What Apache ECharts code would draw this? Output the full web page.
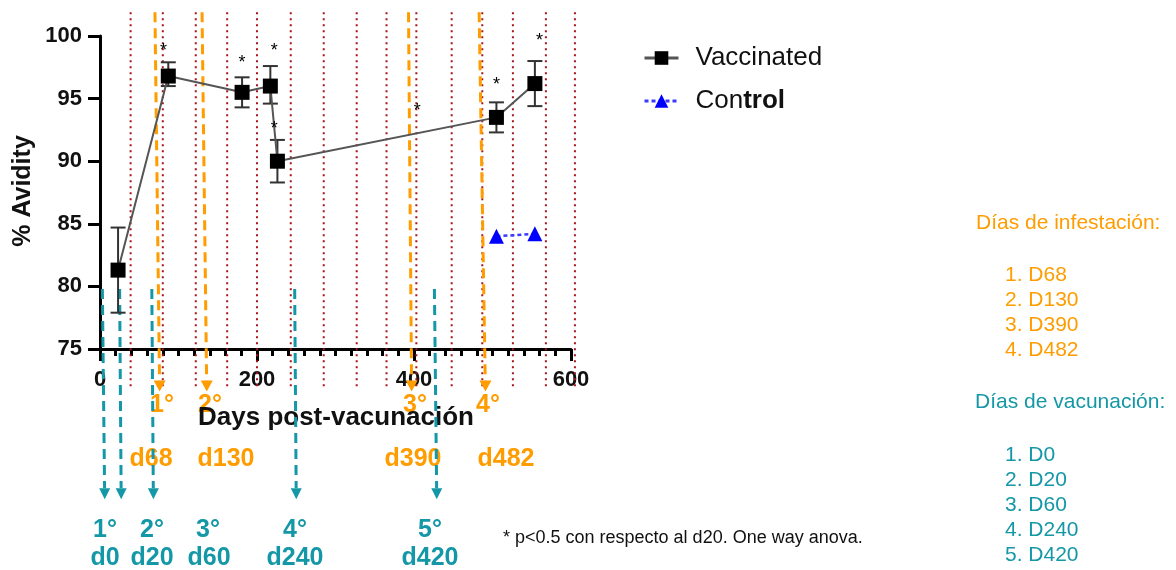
<!DOCTYPE html>
<html><head><meta charset="utf-8">
<script src="https://cdn.jsdelivr.net/npm/echarts@6/dist/echarts.min.js"></script>
<style>html,body{margin:0;padding:0;background:#fff}#c{width:1176px;height:570px}</style>
</head><body><div id="c"></div>
<script>
// ---- data ----
const vacDays  = [23, 87, 181, 217, 226, 505, 554];
const vacMean  = [81.3, 96.8, 95.5, 96.0, 90.0, 93.5, 96.2];
const vacHigh  = [84.7, 97.9, 96.7, 97.6, 91.7, 94.7, 98.0];
const vacLow   = [77.9, 96.0, 94.3, 94.6, 88.3, 92.3, 94.4];
const ctrlDays = [505, 554];
const ctrlMean = [84.0, 84.2];
const starDays = [81, 181, 222, 222, 404, 505, 560];
const starVals = [99.1, 98.2, 99.1, 92.9, 94.3, 96.4, 99.9];
const sampleDays = [39, 80, 122, 162, 200, 243, 285, 327, 365, 403, 448, 487, 526, 568, 605];
const infestTop    = [70, 130, 393, 483];
const infestBottom = [76, 136, 397, 491];
const vaccTop      = [3, 25, 66, 248, 426];
const vaccBottom   = [6, 27, 68, 250, 429];
const sampleSpan = [101.9, 71.8];
const infestSpan = [101.9, 71.6];
const vaccSpan   = [79.8, 63.0];
const xTicks = [0, 200, 400, 600];
const yTicks = [75, 80, 85, 90, 95, 100];
const infestLabels = ['1°', '2°', '3°', '4°'];
const infestDayLabels = ['d68', 'd130', 'd390', 'd482'];
const vaccLabels = ['1°', '2°', '3°', '4°', '5°'];
const vaccDayLabels = ['d0', 'd20', 'd60', 'd240', 'd420'];
const infestList = ['1. D68', '2. D130', '3. D390', '4. D482'];
const vaccList = ['1. D0', '2. D20', '3. D60', '4. D240', '5. D420'];

const ORANGE = '#FF9C00', TEAL = '#1497A6', RED = '#A8141A';
const FONT = '"Liberation Sans", Arial, sans-serif';

function vline(color, width, dash, arrow) {
  return function (params, api) {
    const top = api.coord([api.value(0), api.value(2)]);
    const bot = api.coord([api.value(1), api.value(3)]);
    const children = [];
    let endY = bot[1], endX = bot[0];
    if (arrow) {
      endY = bot[1] - arrow.h;
      endX = top[0] + (bot[0] - top[0]) * (endY - top[1]) / (bot[1] - top[1]);
    }
    children.push({type: 'line', shape: {x1: top[0], y1: top[1], x2: endX, y2: endY},
      style: {stroke: color, lineWidth: width, lineDash: dash}});
    if (arrow) {
      children.push({type: 'polygon', shape: {points: [[bot[0] - arrow.w, endY], [bot[0] + arrow.w, endY], [bot[0], bot[1]]]},
        style: {fill: color}});
    }
    return {type: 'group', children: children};
  };
}

const chart = echarts.init(document.getElementById('c'));

const graphics = [];
function txt(x, y, s, color, font, align) {
  graphics.push({type: 'text', x: x, y: y, silent: true,
    style: {text: s, fill: color, font: font, align: align || 'center', verticalAlign: 'middle'}});
}
const infestLabelX = [162, 210, 415, 488];
const infestDayX = [151, 226, 413, 506];
infestLabels.forEach((s, i) => txt(infestLabelX[i], 405, s, ORANGE, 'bold 25px ' + FONT));
infestDayLabels.forEach((s, i) => txt(infestDayX[i], 459, s, ORANGE, 'bold 25px ' + FONT));
const vaccLabelX = [105, 152, 208, 295, 430];
const vaccDayX = [105, 152, 209, 295, 430];
vaccLabels.forEach((s, i) => txt(vaccLabelX[i], 530, s, TEAL, 'bold 25px ' + FONT));
vaccDayLabels.forEach((s, i) => txt(vaccDayX[i], 558, s, TEAL, 'bold 25px ' + FONT));
txt(336, 418, 'Days post-vacunación', '#111', 'bold 26px ' + FONT);
graphics.push({type: 'text', x: 23, y: 191, rotation: Math.PI / 2, silent: true,
  style: {text: '% Avidity', fill: '#111', font: 'bold 25px ' + FONT, align: 'center', verticalAlign: 'middle'}});
txt(976, 223, 'Días de infestación:', ORANGE, '21px ' + FONT, 'left');
infestList.forEach((s, i) => txt(1005, 275 + 25 * i, s, ORANGE, '21px ' + FONT, 'left'));
txt(975, 402, 'Días de vacunación:', TEAL, '21px ' + FONT, 'left');
vaccList.forEach((s, i) => txt(1005, 455 + 25 * i, s, TEAL, '21px ' + FONT, 'left'));
txt(503, 538, '* p<0.5 con respecto al d20. One way anova.', '#111', '18px ' + FONT, 'left');

chart.setOption({
  animation: false,
  backgroundColor: '#fff',
  grid: {left: 100, right: 605, top: 36, bottom: 221},
  xAxis: {
    type: 'value', min: xTicks[0], max: xTicks[xTicks.length - 1], interval: 200,
    axisLine: {lineStyle: {color: '#000', width: 3}},
    axisTick: {length: 12, lineStyle: {width: 3, color: '#000'}},
    minorTick: {show: true, splitNumber: 10, length: 7, lineStyle: {width: 3, color: '#000'}},
    splitLine: {show: false},
    axisLabel: {margin: 20, color: '#111', fontWeight: 'bold', fontSize: 22, fontFamily: FONT}
  },
  yAxis: {
    type: 'value', min: yTicks[0], max: yTicks[yTicks.length - 1], interval: 5,
    axisLine: {show: true, lineStyle: {color: '#000', width: 3}},
    axisTick: {show: true, length: 12, lineStyle: {width: 3, color: '#000'}},
    splitLine: {show: false},
    axisLabel: {margin: 18, color: '#111', fontWeight: 'bold', fontSize: 22, fontFamily: FONT}
  },
  legend: {
    orient: 'vertical', left: 643, top: 45, itemWidth: 34, itemHeight: 17, itemGap: 17, padding: 0,
    data: ['Vaccinated', 'Control'],
    lineStyle: {width: 3},
    formatter: function (name) { return name === 'Control' ? '{a|Con}{b|trol}' : '{a|' + name + '}'; },
    textStyle: {padding: [0, 0, 0, 12], rich: {
      a: {fontSize: 26, color: '#111', fontFamily: FONT},
      b: {fontSize: 26, color: '#111', fontWeight: 'bold', fontFamily: FONT}
    }}
  },
  graphic: graphics,
  series: [
    {type: 'custom', name: 'samples', clip: false, silent: true, z: 1,
      encode: {x: [0, 1], y: [2, 3]},
      data: sampleDays.map(d => [d, d, sampleSpan[0], sampleSpan[1]]),
      renderItem: vline(RED, 2, [2, 4], null)},
    {type: 'custom', name: 'infest', clip: false, silent: true, z: 1,
      encode: {x: [0, 1], y: [2, 3]},
      data: infestTop.map((d, i) => [d, infestBottom[i], infestSpan[0], infestSpan[1]]),
      renderItem: vline(ORANGE, 3, [10, 6], {w: 6, h: 11})},
    {type: 'custom', name: 'vacc', clip: false, silent: true, z: 1,
      encode: {x: [0, 1], y: [2, 3]},
      data: vaccTop.map((d, i) => [d, vaccBottom[i], vaccSpan[0], vaccSpan[1]]),
      renderItem: vline(TEAL, 3, [10, 6], {w: 5.5, h: 11})},
    {type: 'custom', name: 'err', clip: false, silent: true, z: 3,
      encode: {x: 0, y: [1, 2]},
      data: vacDays.map((d, i) => [d, vacLow[i], vacHigh[i]]),
      renderItem: function (p, api) {
        const lo = api.coord([api.value(0), api.value(1)]);
        const hi = api.coord([api.value(0), api.value(2)]);
        const w = 7.5, st = {stroke: '#333', lineWidth: 2};
        return {type: 'group', children: [
          {type: 'line', shape: {x1: lo[0], y1: lo[1], x2: hi[0], y2: hi[1]}, style: st},
          {type: 'line', shape: {x1: lo[0] - w, y1: lo[1], x2: lo[0] + w, y2: lo[1]}, style: st},
          {type: 'line', shape: {x1: hi[0] - w, y1: hi[1], x2: hi[0] + w, y2: hi[1]}, style: st}
        ]};
      }},
    {type: 'line', name: 'Vaccinated', z: 4,
      data: vacDays.map((d, i) => [d, vacMean[i]]),
      symbol: 'rect', symbolSize: 15, itemStyle: {color: '#000'},
      lineStyle: {color: '#555', width: 2}},
    {type: 'line', name: 'Control', z: 4,
      data: ctrlDays.map((d, i) => [d, ctrlMean[i]]),
      symbol: 'triangle', symbolSize: 15, itemStyle: {color: '#0000ff'},
      lineStyle: {color: '#3a3aff', width: 2.5, type: [4, 3]}},
    {type: 'custom', name: 'stars', clip: false, silent: true, z: 5,
      encode: {x: 0, y: 1},
      data: starDays.map((d, i) => [d, starVals[i]]),
      renderItem: function (p, api) {
        const c = api.coord([api.value(0), api.value(1)]);
        return {type: 'text', x: c[0], y: c[1] + 4,
          style: {text: '*', fill: '#000', font: '18px ' + FONT, align: 'center', verticalAlign: 'middle'}};
      }}
  ]
});
</script></body></html>
